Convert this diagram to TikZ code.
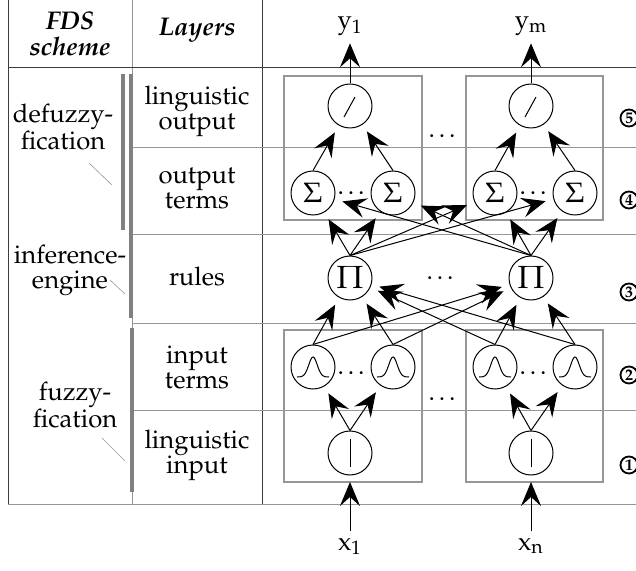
\documentclass[tikz,border=0pt]{standalone}
\usepackage[T1]{fontenc}
\usepackage{mathpazo}
\usetikzlibrary{arrows.meta, calc}
\definecolor{fdsdark}{RGB}{60, 60, 60}
\definecolor{fdsgray}{RGB}{150, 150, 150}
\definecolor{fdsbar}{RGB}{128, 128, 128}

\tikzset{
    neuron/.style={circle, draw, line width=0.5pt, minimum size=22pt, inner sep=0pt},
    flow/.style={-{Stealth[length=12pt, width=10pt, inset=4.5pt]}, line width=0.5pt, shorten >=4pt},
    layerbox/.style={draw=fdsgray, line width=0.6pt},
    laybl/.style={align=center, font=\fontsize{12.8}{12.5}\selectfont},
    header/.style={align=center, font=\bfseries\itshape\fontsize{12.8}{13}\selectfont},
    bar/.style={fdsbar, line width=1.7pt},
    pointer/.style={fdsgray, line width=0.3pt},
    stepnum/.style={circle, draw, line width=0.9pt, minimum size=8.5pt, inner sep=0pt,
        font=\bfseries\fontsize{8}{8}\selectfont}
}

\begin{document}
\begin{tikzpicture}[x=0.5pt, y=-0.5pt]
\useasboundingbox (0,0) rectangle (636,571);

% === Tabla: columnas y filas ===
\draw[fdsdark, line width=0.5pt] (8,0) -- (8,504);
\draw[fdsgray, line width=0.5pt] (132,0) -- (132,504);
\draw[fdsdark, line width=0.5pt] (262,0) -- (262,504);
\draw[fdsdark, line width=0.5pt] (8,68) -- (636,68);
\draw[fdsgray, line width=0.5pt] (8,504) -- (636,504);
\foreach \y in {148,235,323,410} {
    \draw[fdsgray, line width=0.5pt] (132,\y) -- (636,\y);
}

% Barras del esquema FDS
\draw[bar] (123,74) -- (123,230);
\draw[bar] (131,74) -- (131,318);
\draw[bar] (132,328) -- (132,492);
\draw[pointer] (89,163) -- (112,185);
\draw[pointer] (110,280) -- (125,294);
\draw[pointer] (102,438) -- (125,461);

% Encabezados
\node[header] (hfds) at (70,34) {FDS\\scheme};
\node[header] (hlay) at (197,30) {Layers};

% Etiquetas del esquema
\node[laybl] (defuz) at (63,127) {defuzzy-\\fication};
\node[laybl] (infer) at (70,270) {inference-\\engine};
\node[laybl] (fuzz) at (75,405) {fuzzy-\\fication};

% Etiquetas de capas
\node[laybl] (lout) at (197,111) {linguistic\\output};
\node[laybl] (oterm) at (197,189) {output\\terms};
\node[laybl] (rules) at (197,277) {rules};
\node[laybl] (iterm) at (197,367) {input\\terms};
\node[laybl] (lin) at (197,455) {linguistic\\input};

% === Red ===
% Cajas
\draw[layerbox] (284,76) rectangle (422,220);
\draw[layerbox] (466,76) rectangle (603,220);
\draw[layerbox] (284,330) rectangle (422,482);
\draw[layerbox] (466,330) rectangle (603,482);

% Neuronas
\foreach \n/\x in {d1/350, d2/531} {
    \node[neuron] (\n) at (\x,106) {};
    \draw[shift={(\n)}, line width=0.5pt] (-6,11) -- (5,-9);
}
\foreach \n/\x in {s1/313, s2/393, s3/495, s4/575} {
    \node[neuron, font=\fontsize{14}{14}\selectfont] (\n) at (\x,193) {$\Sigma$};
}
\foreach \n/\x in {p1/350, p2/531} {
    \node[neuron, font=\fontsize{16}{16}\selectfont] (\n) at (\x,278) {$\Pi$};
}
\foreach \n/\x in {g1/313, g2/393, g3/495, g4/575} {
    \node[neuron] (\n) at (\x,367) {};
    \draw[shift={(\n)}, line width=0.5pt]
        plot[domain=-16:16, samples=41, smooth] (\x, {10-20*exp(-(\x/6)^2)});
}
\foreach \n/\x in {l1/350, l2/531} {
    \node[neuron] (\n) at (\x,453) {};
    \draw[shift={(\n)}, line width=0.5pt] (0,-14) -- (0,14);
}

% Puntos suspensivos
\node[laybl, anchor=base] (dots1) at (353,195) {\dots};
\node[laybl, anchor=base] (dots2) at (535,195) {\dots};
\node[laybl, anchor=base] (dots3) at (444,138) {\dots};
\node[laybl, anchor=base] (dots4) at (442,280) {\dots};
\node[laybl, anchor=base] (dots5) at (353,374) {\dots};
\node[laybl, anchor=base] (dots6) at (535,374) {\dots};
\node[laybl, anchor=base] (dots7) at (444,400) {\dots};

% Entradas y salidas
\node[laybl, anchor=base] (y1) at (350,29) {$\mathrm{y}_1$};
\node[laybl, anchor=base] (ym) at (531,29) {$\mathrm{y}_\mathrm{m}$};
\node[laybl, anchor=base] (x1) at (350,550) {$\mathrm{x}_1$};
\node[laybl, anchor=base] (xn) at (531,550) {$\mathrm{x}_\mathrm{n}$};
\coordinate (in1) at (350,482);
\coordinate (in2) at (531,482);

% Conexiones
\draw[flow, shorten >=0pt] (d1) -- (y1);
\draw[flow, shorten >=0pt] (d2) -- (ym);
\draw[flow, shorten >=0pt] (x1) -- (in1);
\draw[flow, shorten >=0pt] (xn) -- (in2);
\foreach \s/\d in {s1/d1, s2/d1, s3/d2, s4/d2} {
    \draw[flow] (\s.north) -- (\d);
}
\foreach \p in {p1,p2} {
    \foreach \s in {s1,s2,s3,s4} {
        \draw[flow] (\p.north) -- (\s);
    }
}
\foreach \g in {g1,g2,g3,g4} {
    \foreach \p in {p1,p2} {
        \draw[flow] (\g.north) -- (\p);
    }
}
\foreach \l/\g in {l1/g1, l1/g2, l2/g3, l2/g4} {
    \draw[flow] (\l.north) -- (\g);
}

% Numeros de capa
\foreach \i/\y in {1/465, 2/375, 3/292, 4/200, 5/118} {
    \node[stepnum] (n\i) at (629,\y) {\i};
}

\end{tikzpicture}
\end{document}
